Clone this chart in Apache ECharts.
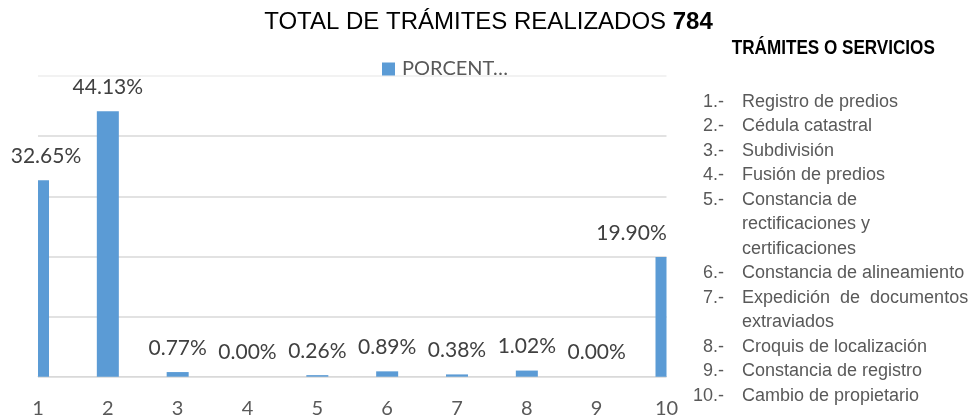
<!DOCTYPE html>
<html>
<head>
<meta charset="utf-8">
<script src="https://cdn.jsdelivr.net/npm/echarts@6/dist/echarts.min.js"></script>
<style>
  html, body { margin: 0; padding: 0; background: #fff; }
  #chart { width: 977px; height: 420px; }
</style>
</head>
<body>
<div id="chart"></div>
<script>
// --- datos ---
const titleText = 'TOTAL DE TRÁMITES REALIZADOS ';
const totalTramites = 784;
const seriesName = 'PORCENTAJE';
const categories = ['1', '2', '3', '4', '5', '6', '7', '8', '9', '10'];
const percentValues = [32.65, 44.13, 0.77, 0.00, 0.26, 0.89, 0.38, 1.02, 0.00, 19.90];

const listHeader = 'TRÁMITES O SERVICIOS';
const listNums = ['1.-', '2.-', '3.-', '4.-', '5.-', '6.-', '7.-', '8.-', '9.-', '10.-'];
const listItems = [
    'Registro de predios',
    'Cédula catastral',
    'Subdivisión',
    'Fusión de predios',
    'Constancia de\nrectificaciones y\ncertificaciones',
    'Constancia de alineamiento',
    'Expedición  de  documentos\nextraviados',
    'Croquis de localización',
    'Constancia de registro',
    'Cambio de propietario'
];

const chart = echarts.init(document.getElementById('chart'));

// lista de la derecha
const lineH = 24.5;
const listGraphics = [];
let lineIdx = 0;
listItems.forEach(function (txt, i) {
    const y = 101.7 + lineIdx * lineH - lineH / 2;
    listGraphics.push({
        type: 'text', x: 724, y: y,
        style: { text: listNums[i], font: '18px "Liberation Sans", Arial', fill: '#595959',
                 align: 'right', verticalAlign: 'top', lineHeight: lineH }
    });
    listGraphics.push({
        type: 'text', x: 742, y: y,
        style: { text: txt, font: '18px "Liberation Sans", Arial', fill: '#595959',
                 align: 'left', verticalAlign: 'top', lineHeight: lineH }
    });
    lineIdx += txt.split('\n').length;
});
// encabezado en negrita estrecha (tipo Arial Narrow)
listGraphics.push({
    type: 'text', x: 833.3, y: 48, scaleX: 0.855,
    style: { text: listHeader, font: 'bold 20px "Liberation Sans", Arial', fill: '#000',
             align: 'center', verticalAlign: 'middle' }
});

const BAR_W = 22;
const BAR_COLOR = '#5b9bd5';

// barras recortadas al área del gráfico (la 1 y la 10 quedan a la mitad, como en Excel)
function renderBar(params, api) {
    const idx = api.value(0);
    const v = api.value(1);
    const top = api.coord([idx, v]);
    const base = api.coord([idx, 0]);
    const cs = params.coordSys;
    const children = [];
    const rect = echarts.graphic.clipRectByRect(
        { x: top[0] - BAR_W / 2, y: top[1], width: BAR_W, height: base[1] - top[1] },
        { x: cs.x, y: cs.y, width: cs.width, height: cs.height }
    );
    if (rect && rect.height > 0) {
        children.push({ type: 'rect', shape: rect, style: { fill: BAR_COLOR } });
    }
    // etiquetas de la primera y última barra se desplazan hacia dentro
    let dx = 0;
    if (params.dataIndex === 0) dx = 8;
    if (params.dataIndex === percentValues.length - 1) dx = -35;
    children.push({
        type: 'text',
        x: top[0] + dx,
        y: top[1] - 24,
        style: {
            text: v.toFixed(2) + '%',
            font: '21px Lato',
            fill: '#404040',
            align: 'center',
            verticalAlign: 'middle'
        }
    });
    return { type: 'group', children: children };
}

const option = {
    animation: false,
    title: {
        left: 'center',
        top: 5,
        text: '{a|' + titleText + '}{b|' + totalTramites + '}',
        textStyle: {
            fontWeight: 'normal',
            rich: {
                a: { fontFamily: '"Liberation Sans", Arial', fontSize: 24, fontWeight: 'normal', color: '#000' },
                b: { fontFamily: '"Liberation Sans", Arial', fontSize: 24, fontWeight: 'bold', color: '#000' }
            }
        }
    },
    legend: {
        data: [seriesName],
        left: 377,
        top: 54,
        icon: 'rect',
        itemWidth: 13,
        itemHeight: 13,
        itemStyle: { color: BAR_COLOR },
        textStyle: {
            fontFamily: 'Lato', fontSize: 20, color: '#595959',
            width: 114, overflow: 'truncate', ellipsis: '…',
            padding: [0, 0, 0, 2]
        }
    },
    grid: {
        left: 38,
        right: 310.5,
        top: 76,
        bottom: 43.3,
        containLabel: false
    },
    xAxis: {
        type: 'category',
        data: categories,
        boundaryGap: false,
        axisLine: { lineStyle: { color: '#d9d9d9', width: 1 } },
        axisTick: { show: false },
        axisLabel: { fontFamily: 'Lato', fontSize: 20, color: '#595959', margin: 22 }
    },
    yAxis: {
        type: 'value',
        min: 0,
        max: 50,
        interval: 10,
        axisLabel: { show: false },
        axisLine: { show: false },
        axisTick: { show: false },
        splitLine: { lineStyle: { color: ['#d9d9d9', '#d9d9d9', '#d9d9d9', '#d9d9d9', '#d9d9d9', '#eeeeee'], width: 1.5 } }
    },
    series: [{
        name: seriesName,
        type: 'custom',
        renderItem: renderBar,
        itemStyle: { color: BAR_COLOR },
        encode: { x: 0, y: 1 },
        data: percentValues.map(function (v, i) { return [i, v]; })
    }],
    graphic: listGraphics
};

chart.setOption(option);
window.addEventListener('resize', function () { chart.resize(); });
</script>
</body>
</html>
